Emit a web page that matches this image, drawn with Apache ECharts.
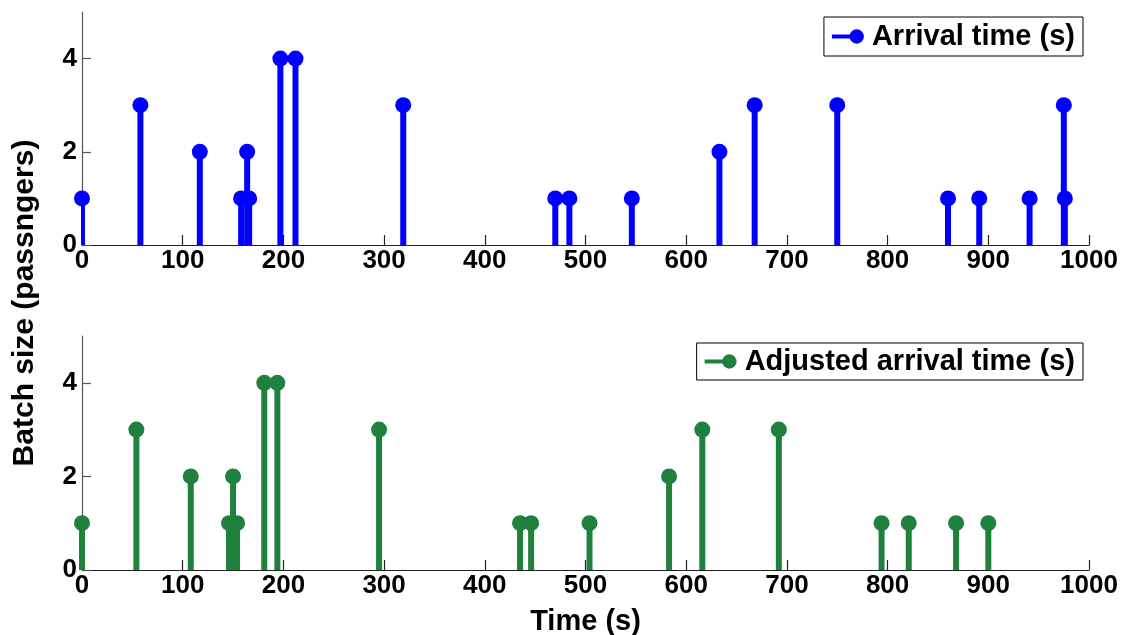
<!DOCTYPE html>
<html>
<head>
<meta charset="utf-8">
<script src="https://cdn.jsdelivr.net/npm/echarts@6/dist/echarts.min.js"></script>
<style>html,body{margin:0;padding:0;background:#fff}#c{width:1125px;height:635px}</style>
</head>
<body>
<div id="c"></div>
<script>
// Top panel: arrival times (s) and batch sizes
const arrivalTimes = [0, 58, 117, 158, 164, 166, 197, 212, 319, 470, 484, 546, 633, 668, 750, 860, 891, 941, 975, 976];
const arrivalSizes = [1, 3, 2, 1, 2, 1, 4, 4, 3, 1, 1, 1, 2, 3, 3, 1, 1, 1, 3, 1];
// Bottom panel: adjusted arrival times (s) and batch sizes
const adjustedTimes = [0, 54, 108, 146, 150, 154, 181, 194, 295, 435, 446, 504, 583, 616, 692, 794, 821, 868, 900];
const adjustedSizes = [1, 3, 2, 1, 2, 1, 4, 4, 3, 1, 1, 1, 2, 3, 3, 1, 1, 1, 1];
const xTicks = [0, 100, 200, 300, 400, 500, 600, 700, 800, 900, 1000];
const yTicks = [0, 2, 4];
const seriesNames = ['Arrival time (s)', 'Adjusted arrival time (s)'];

const FONT = "'Liberation Sans', Arial, sans-serif";
const BLUE = '#0000FF';
const GREEN = '#20803E';
const pairs = (xs, ys) => xs.map((x, i) => [x, ys[i]]);
const legendIcon = 'path://M0,5H20V9H0Z M17,7A7,7 0 1,1 31,7A7,7 0 1,1 17,7Z';

function xAxis(gi, name) {
  return {
    type: 'value', gridIndex: gi, min: 0, max: 1000, interval: 100,
    name: name || '', nameLocation: 'middle', nameGap: 37,
    nameTextStyle: { fontFamily: FONT, fontWeight: 'bold', fontSize: 29, color: '#000' },
    axisLine: { show: true, lineStyle: { color: '#222', width: 1.2 } },
    axisTick: { show: true, inside: true, length: 10, customValues: xTicks, lineStyle: { color: '#222', width: 1.2 } },
    axisLabel: { margin: 3, fontFamily: FONT, fontWeight: 'bold', fontSize: 26, color: '#000',
      customValues: xTicks, formatter: v => String(v) },
    splitLine: { show: false }
  };
}
function yAxis(gi) {
  return {
    type: 'value', gridIndex: gi, min: 0, max: 5, interval: 1,
    axisLine: { show: true, onZero: false, lineStyle: { color: '#555', width: 1.2 } },
    axisTick: { show: true, inside: true, length: 9, customValues: yTicks, lineStyle: { color: '#555', width: 1.2 } },
    axisLabel: { margin: 5, fontFamily: FONT, fontWeight: 'bold', fontSize: 26, color: '#000',
      customValues: yTicks, formatter: v => String(v) },
    splitLine: { show: false }
  };
}
function stems(gi, name, data, color) {
  return [
    { type: 'bar', name: name + ' stem', xAxisIndex: gi, yAxisIndex: gi, data: data,
      barWidth: 6, itemStyle: { color: color }, silent: true, z: 2 },
    { type: 'scatter', name: name, xAxisIndex: gi, yAxisIndex: gi, data: data,
      symbol: 'circle', symbolSize: 16, itemStyle: { color: color, opacity: 1 }, clip: false, z: 3 }
  ];
}
function legend(name, top, pad) {
  return { data: [{ name: name, icon: legendIcon }], right: 42, top: top,
    itemWidth: 32, itemHeight: 15, itemGap: 4, padding: pad,
    borderColor: '#000', borderWidth: 1, backgroundColor: '#fff',
    textStyle: { fontFamily: FONT, fontWeight: 'bold', fontSize: 29, color: '#000', padding: [0, 0, 0, 3] } };
}

const chart = echarts.init(document.getElementById('c'), null, { renderer: 'canvas' });
chart.setOption({
  animation: false,
  backgroundColor: '#fff',
  grid: [
    { left: 82, right: 36, top: 12, height: 233, outerBoundsMode: 'none', containLabel: false },
    { left: 82, right: 36, top: 336, height: 234, outerBoundsMode: 'none', containLabel: false }
  ],
  xAxis: [xAxis(0), xAxis(1, 'Time (s)')],
  yAxis: [yAxis(0), yAxis(1)],
  legend: [legend(seriesNames[0], 17, [5, 8, 5, 8]), legend(seriesNames[1], 343, [4, 8, 4, 8])],
  graphic: [{
    type: 'text', x: 25, y: 303, rotation: Math.PI / 2,
    style: { text: 'Batch size (passngers)', fontFamily: FONT, fontWeight: 'bold', fontSize: 30,
      fill: '#000', align: 'center', verticalAlign: 'middle' }
  }],
  series: [
    ...stems(0, seriesNames[0], pairs(arrivalTimes, arrivalSizes), BLUE),
    ...stems(1, seriesNames[1], pairs(adjustedTimes, adjustedSizes), GREEN)
  ]
});
</script>
</body>
</html>
